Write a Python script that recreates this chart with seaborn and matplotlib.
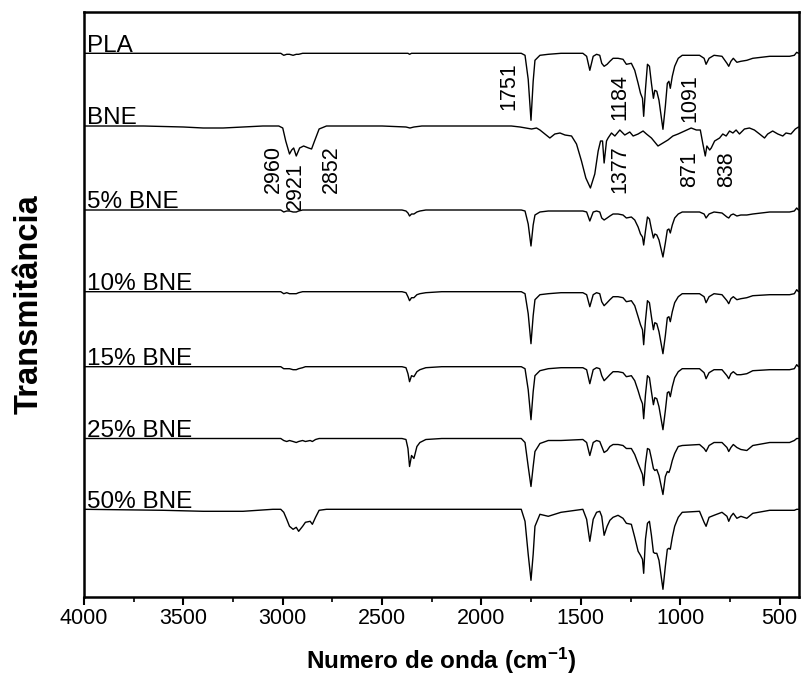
import numpy as np
import pandas as pd
import matplotlib
matplotlib.use("Agg")
import matplotlib.pyplot as plt
import seaborn as sns

# ---------------- data ----------------
# common wavenumber grid for PLA and the PLA/BNE blends (cm-1)
wn_pla = [4000, 3600, 3400, 3200, 3050, 3010, 2995, 2980, 2966, 2948, 2932, 2920, 2900, 2886, 2862, 2851, 2835, 2817, 2780,
          2600, 2400, 2380, 2370, 2362, 2352, 2340, 2325, 2310, 2280, 2200, 2000, 1850, 1800,
          1781, 1765, 1751, 1740, 1731, 1706, 1664, 1600, 1490,
          1471, 1455, 1438, 1421, 1405, 1395, 1383, 1368, 1354, 1338,
          1313, 1288, 1271, 1246, 1229, 1212, 1200, 1190, 1184, 1175, 1165,
          1155, 1145, 1135, 1128, 1118, 1107, 1087, 1075, 1065, 1057, 1050, 1040, 1028, 1010, 990,
          903, 880, 870, 855, 830, 790, 765, 756, 745, 733, 715, 695, 665, 635, 550, 450, 426, 414, 405]

# band depth below each trace's baseline (arbitrary units)
pla = [0, 0, 0, 0, 0, 0, 2, 1, 1, 2, 1, 1, 0, 0, 0, 0, 0, 0, 0,
       0, 0, 0, 0, 1, 0, 0, 0, 0, 0, 0, 0, 0, 0,
       2, 26, 67, 28, 7, 2, 1, 0, 0,
       3, 17, 3, 1, 2, 10, 13, 11, 8, 5,
       5, 6, 11, 10, 17, 30, 40, 45, 63, 36, 11,
       13, 30, 45, 37, 38, 47, 76, 53, 30, 28, 35, 23, 13, 5, 2,
       2, 5, 11, 5, 2, 3, 10, 13, 8, 5, 9, 8, 7, 5, 3, 3, 2, -1, 0]

bne5 = [0, 0, 0, 0, 0, 0, 2, 1, 1, 2, 2, 1, 0, 0, 0, 0, 0, 0, 0,
        0, 0, 1, 3, 6, 4, 4, 2, 1, 0, 0, 0, 0, 0,
        1, 14, 36, 15, 5, 2, 1, 1, 1,
        2, 11, 2, 1, 2, 8, 10, 8, 6, 4,
        4, 5, 8, 7, 10, 17, 24, 27, 35, 21, 7,
        9, 19, 28, 24, 25, 30, 47, 33, 20, 19, 23, 15, 8, 4, 2,
        2, 4, 8, 4, 2, 3, 7, 8, 5, 4, 6, 5, 5, 4, 2, 2, 1, -2, 0]

bne10 = [0, 0, 0, 0, 0, 0, 2, 1, 2, 2, 2, 1, 0, 0, 0, 0, 0, 0, 0,
         0, 0, 1, 5, 9, 6, 6, 3, 2, 1, 0, 0, 0, 0,
         2, 22, 52, 24, 8, 3, 2, 1, 1,
         3, 15, 3, 1, 2, 10, 14, 11, 8, 5,
         5, 6, 10, 9, 14, 25, 33, 38, 53, 29, 9,
         11, 25, 38, 31, 32, 40, 62, 44, 26, 25, 30, 20, 11, 5, 2,
         2, 5, 11, 5, 2, 3, 9, 12, 7, 5, 8, 7, 6, 4, 3, 3, 2, -2, 0]

bne15 = [0, 0, 0, 0, 0, 0, 2, 2, 2, 3, 3, 2, 1, 0, 0, 0, 0, 0, 0,
         0, 0, 1, 7, 15, 9, 10, 5, 3, 1, 0, 0, 0, 0,
         2, 23, 53, 25, 9, 4, 2, 1, 1,
         3, 17, 3, 1, 2, 9, 14, 11, 8, 5,
         5, 6, 10, 9, 14, 24, 32, 37, 52, 28, 9,
         11, 25, 38, 31, 32, 40, 63, 44, 26, 25, 30, 20, 11, 5, 2,
         2, 6, 12, 6, 3, 3, 9, 12, 7, 5, 8, 8, 7, 4, 3, 3, 2, -2, 0]

bne25 = [0, 0, 0, 0, 0, 0, 2, 3, 2, 3, 4, 3, 2, 3, 2, 3, 1, 0, 0,
         0, 0, 1, 10, 28, 17, 20, 8, 4, 1, 0, 0, 0, 0,
         4, 28, 48, 28, 13, 5, 2, 2, 1,
         4, 17, 4, 2, 3, 8, 14, 12, 8, 6,
         6, 7, 10, 10, 16, 25, 31, 36, 47, 25, 10,
         11, 20, 30, 32, 31, 37, 56, 38, 33, 34, 30, 22, 15, 8, 7,
         6, 10, 13, 7, 4, 4, 9, 13, 9, 6, 9, 11, 12, 7, 4, 4, 2, 0, 0]

bne50 = [0, 1, 2, 2, 0, 0, 3, 10, 17, 20, 18, 22, 17, 13, 12, 15, 8, 1, 0,
         0, 0, 0, 0, 0, 0, 0, 0, 0, 0, 0, 0, 0, 0,
         12, 45, 71, 45, 17, 5, 7, 3, 0,
         10, 32, 10, 3, 2, 7, 26, 17, 11, 8,
         6, 9, 14, 15, 28, 42, 46, 50, 64, 30, 14,
         12, 26, 43, 44, 44, 51, 80, 57, 40, 39, 40, 28, 17, 8, 3,
         2, 13, 17, 8, 6, 3, 7, 12, 7, 4, 9, 7, 9, 4, 1, 1, 1, 0, 0]

# neat BNE spectrum has its own grid
wn_bne = [4000, 3700, 3500, 3400, 3300, 3200, 3100, 3020, 3000, 2985, 2966, 2955, 2945, 2932, 2915, 2895, 2870, 2855, 2840, 2817, 2780,
          2500, 2380, 2360, 2340, 2300, 2000, 1850, 1806,
          1748, 1723, 1706, 1681, 1656, 1631, 1605, 1580, 1547, 1522, 1497, 1475, 1452, 1430, 1413, 1401, 1391, 1383, 1371, 1363,
          1346, 1329, 1304, 1279, 1254, 1237, 1212, 1187, 1170, 1145, 1112, 1087, 1062, 1037, 1011, 978, 945, 919, 899, 886,
          874, 866, 852, 844, 827, 802, 786, 769, 752, 735, 719, 702, 677, 652, 627, 601, 576, 560, 535, 509, 484, 468, 443, 421, 405]
bne = [0, 0, 1, 2, 2, 1, 0, 0, 2, 15, 28, 24, 22, 30, 22, 20, 22, 23, 15, 3, 0,
       0, 1, 2, 1, 0, 0, 0, 1,
       3, 2, 4, 8, 12, 8, 7, 9, 10, 18, 35, 52, 62, 48, 25, 15, 15, 37, 15, 12,
       7, 10, 4, 9, 6, 10, 8, 5, 8, 12, 20, 17, 14, 10, 8, 5, 2, 4, 4, 18,
       30, 20, 24, 22, 15, 12, 8, 10, 5, 7, 4, 8, 3, 2, 4, 8, 12, 8, 5, 8, 10, 7, 8, 3, 1]

labels = ["PLA", "BNE", "5% BNE", "10% BNE", "15% BNE", "25% BNE", "50% BNE"]
baselines = [543.7, 471.0, 387.0, 305.3, 230.3, 158.5, 87.7]

band_text = ["1751", "1184", "1091", "2960", "2921", "2852", "1377", "871", "838"]
band_x = [1861, 1304, 953, 3046, 2938, 2755, 1304, 953, 767]
band_y = [487, 477, 475, 404, 387, 404, 404, 410, 410]

# ---------------- plotting ----------------
sns.set_theme(style="white")
plt.rcParams["font.family"] = ["Liberation Sans", "DejaVu Sans"]
plt.rcParams["mathtext.default"] = "regular"
plt.rcParams["text.color"] = "black"
plt.rcParams["axes.labelcolor"] = "black"
plt.rcParams["xtick.color"] = "black"
plt.rcParams["ytick.color"] = "black"

fig = plt.figure(figsize=(8.01, 6.84), dpi=100)
ax = fig.add_axes([84 / 801, 87 / 684, 714.5 / 801, 585.3 / 684])

series = [(wn_pla, pla), (wn_bne, bne), (wn_pla, bne5), (wn_pla, bne10),
          (wn_pla, bne15), (wn_pla, bne25), (wn_pla, bne50)]
for (wx, d), lab, base in zip(series, labels, baselines):
    df = pd.DataFrame({"wn": wx, "T": [base - v for v in d]})
    sns.lineplot(data=df, x="wn", y="T", sort=False, estimator=None,
                 color="black", linewidth=1.0, ax=ax)
    ax.text(3985, base + 1.5, lab, fontsize=17.5, ha="left", va="baseline", color="black")

for t, x, y in zip(band_text, band_x, band_y):
    ax.text(x, y, t, rotation=90, fontsize=15.5, ha="center", va="bottom", color="black")

ax.set_xlim(4000, 405)
ax.set_ylim(0, 585.3)
ax.set_xticks([4000, 3500, 3000, 2500, 2000, 1500, 1000, 500])
ax.set_xticks(np.arange(3750, 400, -500), minor=True)
ax.set_yticks([])
ax.tick_params(axis="x", which="major", direction="out", length=6, width=1.5,
               labelsize=15.5, pad=2, bottom=True, colors="black")
ax.tick_params(axis="x", which="minor", direction="out", length=3.5, width=1.2, bottom=True,
               colors="black")
for s in ax.spines.values():
    s.set_linewidth(1.8)
    s.set_color("black")

ax.set_xlabel("Numero de onda (cm$^{-1}$)", fontsize=17.5, fontweight="bold", labelpad=12,
              color="black")
ax.set_ylabel("Transmitância", fontsize=23.5, fontweight="bold", labelpad=28, color="black")

fig.savefig("out.png", dpi=100)
